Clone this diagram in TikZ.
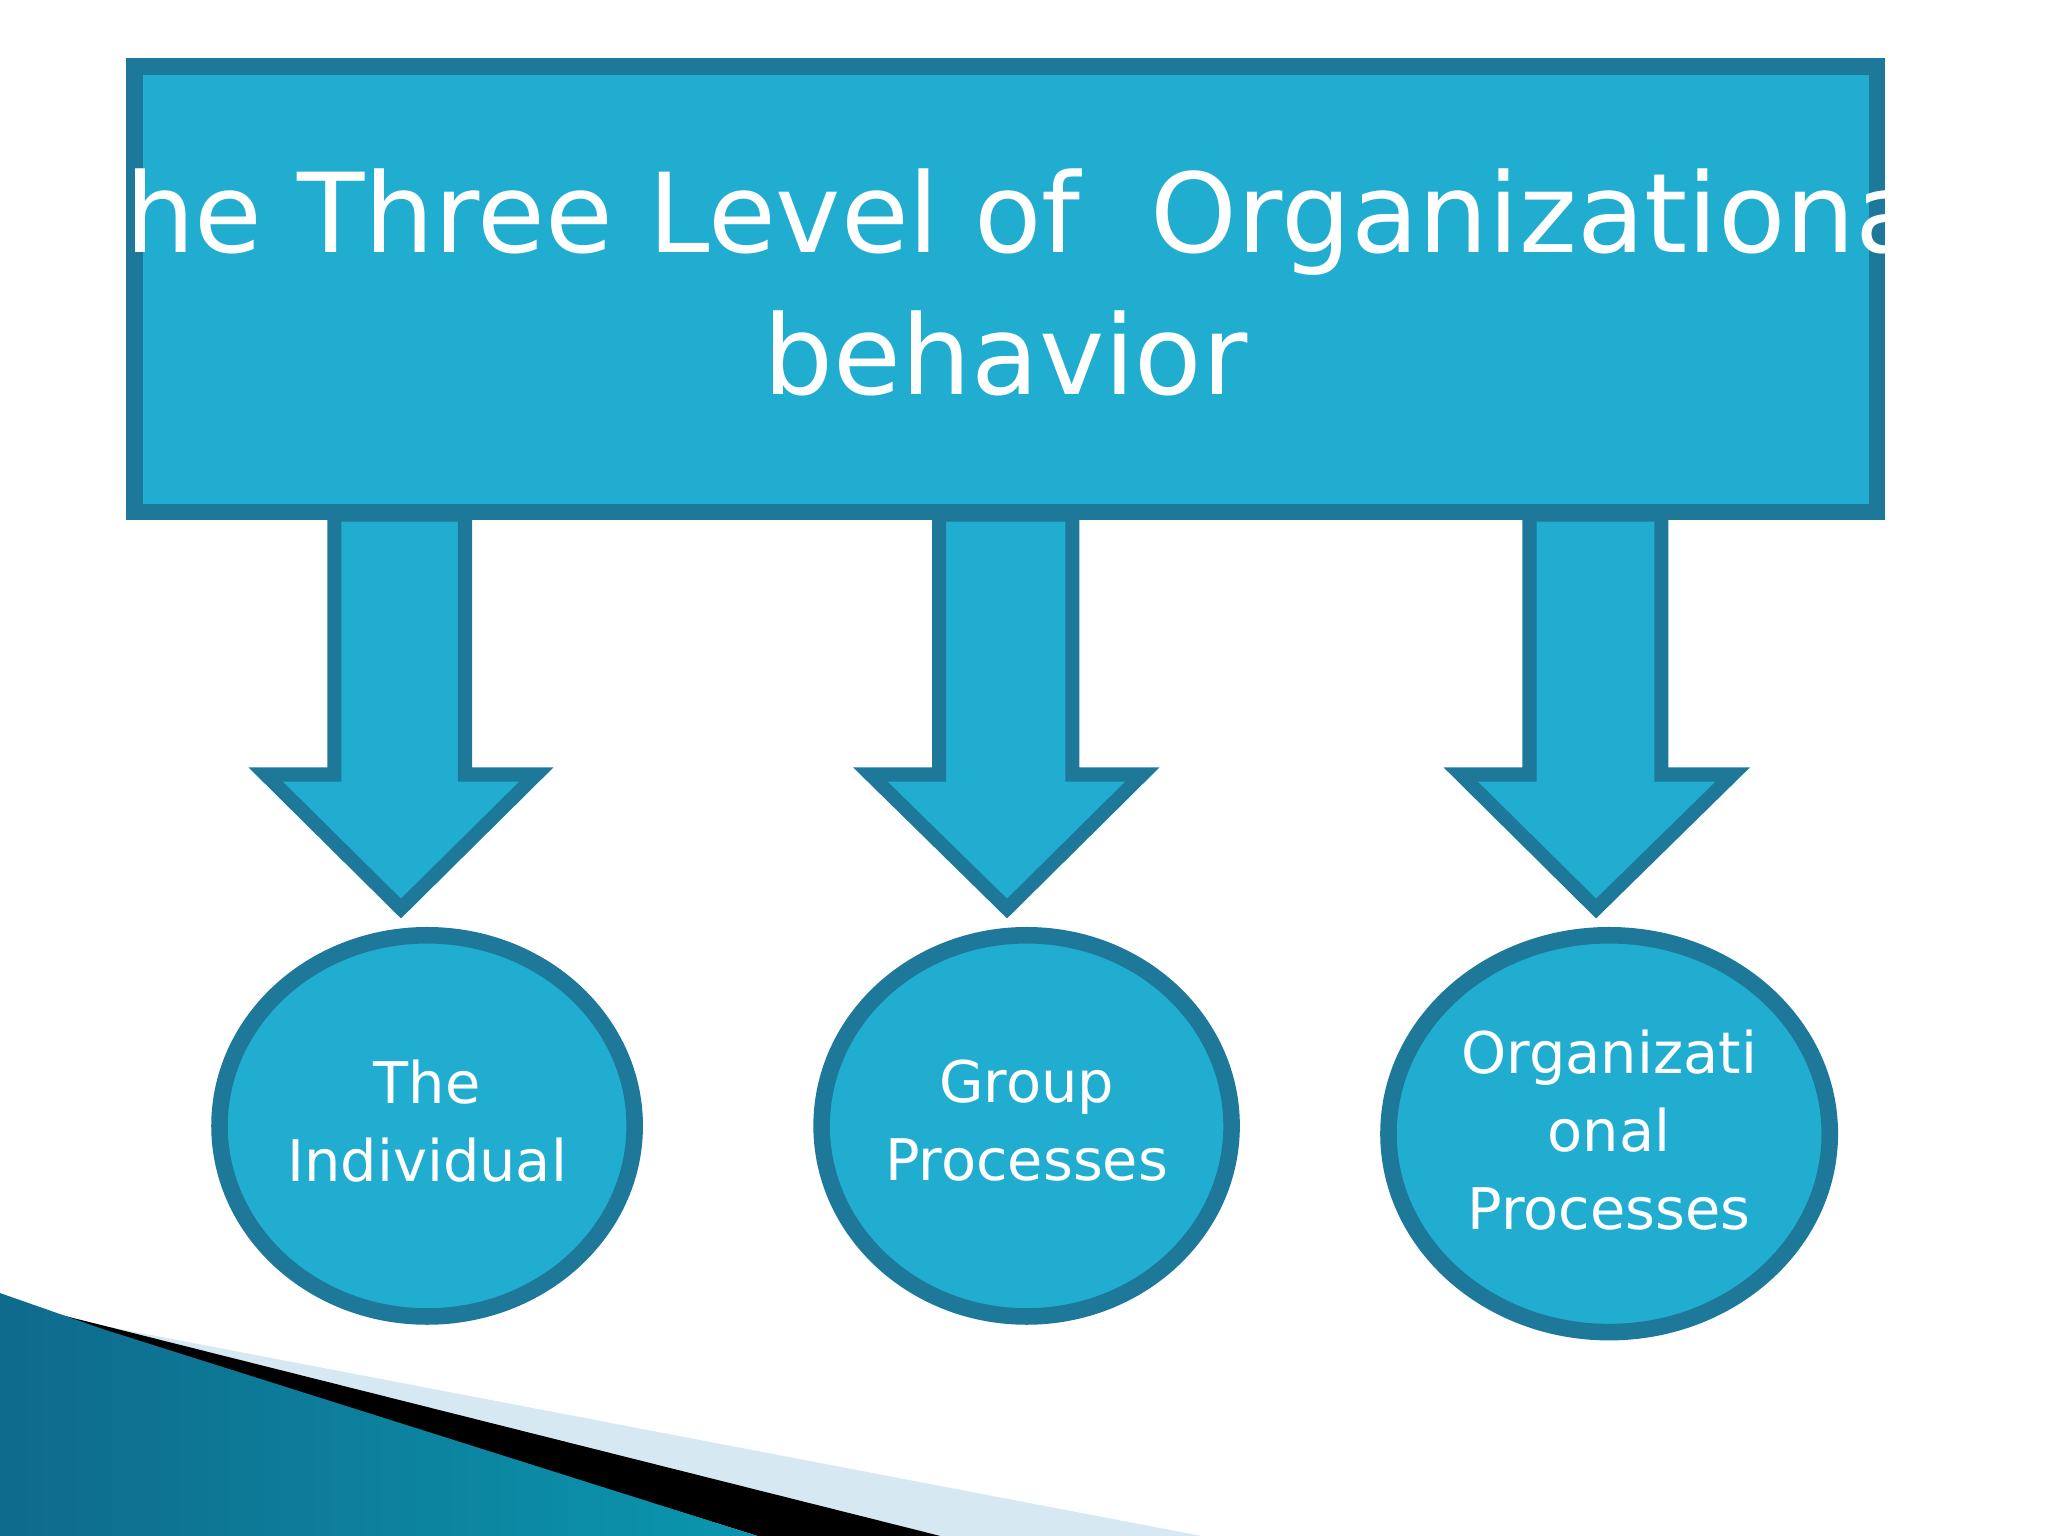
\documentclass[tikz,border=0pt]{standalone}
\usepackage{fontspec}
\setmainfont{DejaVu Sans}
\definecolor{fillc}{HTML}{21ADCF}
\definecolor{edgec}{HTML}{1E7899}
\definecolor{darkb}{HTML}{0F6A8C}
\definecolor{lightb}{HTML}{D6E8F2}
\tikzset{
  arrowshape/.style={fill=fillc,draw=edgec,line width=2.5pt},
  boxline/.style={draw=edgec,line width=3pt},
  inner/.style={draw=edgec,line width=0.8pt},
  lbl/.style={text=white,align=center,font=\fontsize{12.5}{17}\selectfont}
}
\begin{document}
\begin{tikzpicture}[x=0.01cm,y=-0.01cm]
\useasboundingbox (0,0) rectangle (1568,1176);
\fill[white] (0,0) rectangle (1568,1176);
% decoration
\fill[lightb] (0,1000) -- (920,1176) -- (700,1176) -- cycle;
\fill[black] (0,995) -- (720,1176) -- (580,1176) -- cycle;
\shade[left color=darkb,right color=darkb!70!cyan] (0,990) -- (80,1018) -- (580,1176) -- (0,1176) -- cycle;
% top box
\draw[boxline,fill=fillc] (102,50) rectangle (1438,393);
\draw[inner] (108,56) rectangle (1432,387);
\node[text=white,align=center,font=\fontsize{24}{31}\selectfont] (title) at (770,216)
  {The Three Level of \ Organizational\\behavior};
% arrows
\foreach \n/\a/\b/\c/\d/\t in {a1/255/357/201/413/307, a2/718/822/664/877/771, a3/1170/1273/1116/1329/1222}{
  \draw[arrowshape] (\a,393) -- (\b,393) -- (\b,592) -- (\d,592) -- (\t,697) -- (\c,592) -- (\a,592) -- cycle;
  \draw[inner] (\a+5,398) -- (\b-5,398) -- (\b-5,597) -- (\d-12,597) -- (\t,690) -- (\c+12,597) -- (\a+5,597) -- cycle;
}
% ellipses
\foreach \x/\y/\rx/\ry in {327/862/160/147, 786/862/158/147, 1232/868/170/153}{
  \draw[fill=fillc,draw=edgec,line width=3pt] (\x,\y) ellipse [x radius=\rx,y radius=\ry];
  \draw[inner] (\x,\y) ellipse [x radius=\rx-6,y radius=\ry-6];
}
\node[lbl] (t1) at (327,858) {The\\Individual};
\node[lbl] (t2) at (786,858) {Group\\Processes};
\node[lbl] (t3) at (1232,865) {Organizati\\onal\\Processes};
\end{tikzpicture}
\end{document}
